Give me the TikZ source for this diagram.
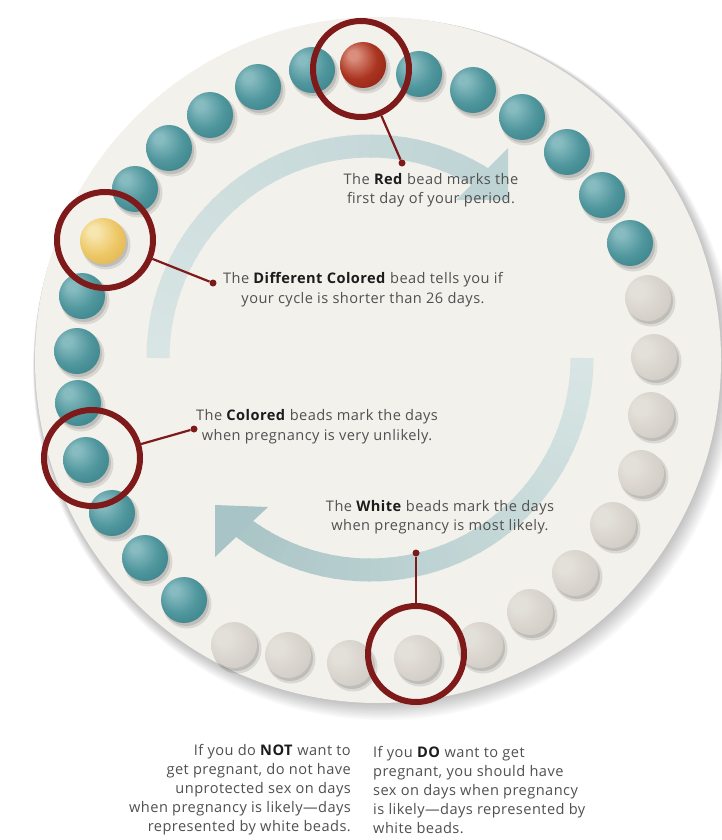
\documentclass[tikz,border=0pt]{standalone}
\usepackage{fontspec}
\setmainfont{Open Sans}[LetterSpace=3.0]
\usetikzlibrary{calc}
\definecolor{discc}{HTML}{F3F1EC}
\definecolor{ringc}{HTML}{7E1A1A}
\definecolor{txtc}{HTML}{505050}
\definecolor{boldc}{HTML}{1C1C1C}
\definecolor{arcL}{HTML}{D8E5E4}
\definecolor{arcU}{HTML}{BED3D4}
\definecolor{arcD}{HTML}{A9C4C6}
\definecolor{tealA}{HTML}{86BBC0}
\definecolor{tealB}{HTML}{4E959C}
\definecolor{tealC}{HTML}{377F87}
\definecolor{tealD}{HTML}{2A6B73}
\definecolor{redA}{HTML}{DA8E7C}
\definecolor{redB}{HTML}{AA3420}
\definecolor{redC}{HTML}{8C2115}
\definecolor{redD}{HTML}{6E150E}
\definecolor{yelA}{HTML}{F8E6B0}
\definecolor{yelB}{HTML}{EDC867}
\definecolor{yelC}{HTML}{DFB046}
\definecolor{yelD}{HTML}{CB9A38}
\definecolor{whtA}{HTML}{E3DFD9}
\definecolor{whtB}{HTML}{D6D1CA}
\definecolor{whtC}{HTML}{CBC5BD}
\definecolor{whtD}{HTML}{BDB6AD}
\pgfdeclareradialshading{tealball}{\pgfpoint{-12bp}{12bp}}{color(0bp)=(tealA); color(5bp)=(tealA); color(22bp)=(tealB); color(38bp)=(tealC); color(50bp)=(tealD)}
\pgfdeclareradialshading{redball}{\pgfpoint{-12bp}{12bp}}{color(0bp)=(redA); color(5bp)=(redA); color(22bp)=(redB); color(38bp)=(redC); color(50bp)=(redD)}
\pgfdeclareradialshading{yelball}{\pgfpoint{-12bp}{12bp}}{color(0bp)=(yelA); color(5bp)=(yelA); color(22bp)=(yelB); color(38bp)=(yelC); color(50bp)=(yelD)}
\pgfdeclareradialshading{whtball}{\pgfpoint{-14bp}{10bp}}{color(0bp)=(whtA); color(8bp)=(whtA); color(26bp)=(whtB); color(42bp)=(whtC); color(50bp)=(whtD)}
\tikzset{
  bead/.style={circle, minimum size=46pt, inner sep=0pt, shading=#1ball},
  ring/.style={circle, draw=ringc, line width=6pt, minimum size=96pt, inner sep=0pt},
  leaddot/.style={circle, fill=ringc, minimum size=7pt, inner sep=0pt},
  leader/.style={draw=ringc, line width=2.2pt},
  lbl/.style={text=txtc, align=center, font=\fontsize{14.6}{19.5}\selectfont, inner sep=0pt},
  foot/.style={text=txtc, font=\fontsize{14.6}{19}\selectfont, inner sep=0pt},
}
\newcommand{\bw}[1]{\textcolor{boldc}{\textbf{#1}}}
\begin{document}
\begin{tikzpicture}[x=1pt,y=-1pt]
\useasboundingbox (0,0) rectangle (722,840);
\fill[white] (0,0) rectangle (722,840);
% disc shadow
\foreach \i in {1,...,10} {
  \fill[black,opacity=0.022] ({378+0.6*\i},{360+0.9*\i}) circle ({343pt+0.8pt*\i});
}
\fill[discc] (378,360) circle (343pt);
% upper cycle arrow
\foreach \a in {180,177,...,57} {
  \pgfmathsetmacro{\t}{100*(\a-55)/125}
  \draw[line width=23pt, color=arcL!\t!arcU] plot[domain=\a:{\a-3.6}, samples=4] ({370+212*cos(\x)},{358-212*sin(\x)});
}
\fill[arcU] (508,148) -- (508,200) -- (456,200) -- cycle;
% lower cycle arrow
\foreach \a in {0,-3,...,-126} {
  \pgfmathsetmacro{\t}{100*(\a+129)/129}
  \draw[line width=23pt, color=arcL!\t!arcD] plot[domain=\a:{\a-3.6}, samples=4] ({370+212*cos(\x)},{358-212*sin(\x)});
}
\fill[arcD] (215,505) -- (268,507) -- (215,557) -- cycle;
% beads
\foreach \n/\px/\py/\c in {1/363/65/red,2/419/74/teal,3/473/90/teal,4/522/117/teal,5/567/152/teal,6/602/195/teal,7/630/243/teal,8/648/298/wht,9/654/357/wht,10/651/415/wht,11/641/473/wht,12/613/525/wht,13/575/573/wht,14/530/612/wht,15/480/645/wht,16/417/658/wht,17/350/663/wht,18/288/655/wht,19/234/645/wht,20/184/600/teal,21/145/558/teal,22/112/513/teal,23/86/460/teal,24/78/403/teal,25/77/351/teal,26/82/296/teal,27/103/241/yel,28/135/189/teal,29/169/148/teal,30/210/115/teal,31/258/87/teal,32/312/70/teal} {
  \fill[black,opacity=0.10] ({\px+3},{\py+4}) circle (24.5pt);
  \fill[black,opacity=0.12] ({\px+2},{\py+3}) circle (23pt);
  \node[bead=\c] (b\n) at (\px,\py) {};
}
% highlight rings
\node[ring] (ringRed) at (361,69) {};
\node[ring] (ringYel) at (105,240) {};
\node[ring] (ringTeal) at (92,458) {};
\node[ring] (ringWht) at (416,654) {};
% leader dots and lines
\node[leaddot] (dRed) at (402,163) {};
\node[leaddot] (dYel) at (213,283) {};
\node[leaddot] (dTeal) at (194,429) {};
\node[leaddot] (dWht) at (416,553) {};
\draw[leader] (ringRed) -- (dRed);
\draw[leader] (ringYel) -- (dYel);
\draw[leader] (ringTeal) -- (dTeal);
\draw[leader] (ringWht) -- (dWht);
% labels
\node[lbl] (tRed) at (431,190) {The \bw{Red} bead marks the\\first day of your period.};
\node[lbl] (tYel) at (363,289.5) {The \bw{Different Colored} bead tells you if\\your cycle is shorter than 26 days.};
\node[lbl] (tTeal) at (317,426.5) {The \bw{Colored} beads mark the days\\when pregnancy is very unlikely.};
\node[lbl] (tWht) at (440,517) {The \bw{White} beads mark the days\\when pregnancy is most likely.};
% footer
\node[foot, anchor=east, align=right] (fNot) at (351,790) {If you do \bw{NOT} want to\\get pregnant, do not have\\unprotected sex on days\\when pregnancy is likely—days\\represented by white beads.};
\node[foot, anchor=west, align=left] (fDo) at (373,790) {If you \bw{DO} want to get\\pregnant, you should have\\sex on days when pregnancy\\is likely—days represented by\\white beads.};
\end{tikzpicture}
\end{document}
